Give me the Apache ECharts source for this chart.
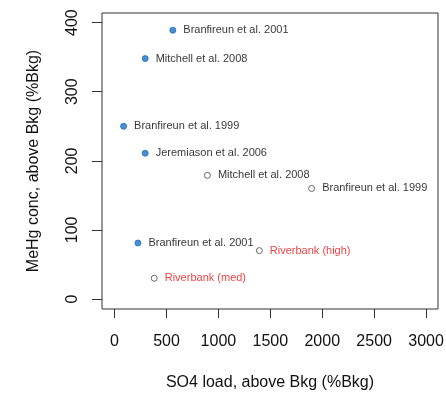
<!DOCTYPE html>
<html><head><meta charset="utf-8">
<script src="https://cdn.jsdelivr.net/npm/echarts@6/dist/echarts.min.js"></script>
<style>html,body{margin:0;padding:0;background:#fff}#c{width:446px;height:393px}</style>
</head><body><div id="c"></div>
<script>
const filledNames = ["Branfireun et al. 2001", "Mitchell et al. 2008", "Branfireun et al. 1999", "Jeremiason et al. 2006", "Branfireun et al. 2001"];
const filledX = [561, 295, 87, 295, 225];
const filledY = [389, 348, 250, 211, 81];
const openNames = ["Mitchell et al. 2008", "Branfireun et al. 1999", "Riverbank (high)", "Riverbank (med)"];
const openX = [894, 1898, 1394, 382];
const openY = [179, 160, 70, 30];
const openLabelRed = [false, false, true, true];
const xTicks = [0, 500, 1000, 1500, 2000, 2500, 3000];
const yTicks = [0, 100, 200, 300, 400];

const font = '"Liberation Sans", Arial, sans-serif';
const chart = echarts.init(document.getElementById('c'));
function pts(xs, ys, names, red) {
  return xs.map((x, i) => ({
    value: [x, ys[i]], name: names[i],
    label: { color: red && red[i] ? '#f01010' : '#000' }
  }));
}
chart.setOption({
  animation: false,
  grid: { left: 102, top: 13, right: 8, bottom: 84, show: true, borderColor: '#333', borderWidth: 1, backgroundColor: 'transparent', outerBoundsMode: 'none', containLabel: false },
  xAxis: {
    type: 'value', min: -121, max: 3115,
    name: 'SO4 load, above Bkg (%Bkg)', nameLocation: 'middle', nameGap: 66,
    nameTextStyle: { fontFamily: font, fontSize: 16, color: '#111' },
    axisLine: { show: false, onZero: false },
    splitLine: { show: false },
    axisTick: { show: true, inside: false, length: 9, customValues: xTicks, lineStyle: { color: '#333' } },
    axisLabel: { customValues: xTicks, margin: 25, fontFamily: font, fontSize: 16, color: '#111', formatter: v => String(v) }
  },
  yAxis: {
    type: 'value', min: -14.5, max: 414,
    name: 'MeHg conc, above Bkg (%Bkg)', nameLocation: 'middle', nameGap: 60,
    nameTextStyle: { fontFamily: font, fontSize: 16, color: '#111' },
    axisLine: { show: false, onZero: false },
    splitLine: { show: false },
    axisTick: { show: true, inside: false, length: 10, customValues: yTicks, lineStyle: { color: '#333' } },
    axisLabel: { customValues: yTicks, rotate: 90, margin: 21, fontFamily: font, fontSize: 16, color: '#111', formatter: v => String(v) }
  },
  series: [
    {
      type: 'scatter', symbol: 'circle', symbolSize: 6,
      itemStyle: { color: '#1b70c0', borderColor: '#1b70c0' },
      data: pts(filledX, filledY, filledNames),
      label: { show: true, position: 'right', distance: 7, formatter: p => p.name, fontFamily: font, fontSize: 11 }
    },
    {
      type: 'scatter', symbol: 'circle', symbolSize: 6,
      itemStyle: { color: '#fff', borderColor: '#444', borderWidth: 1 },
      data: pts(openX, openY, openNames, openLabelRed),
      label: { show: true, position: 'right', distance: 7, formatter: p => p.name, fontFamily: font, fontSize: 11 }
    }
  ]
});
</script></body></html>
